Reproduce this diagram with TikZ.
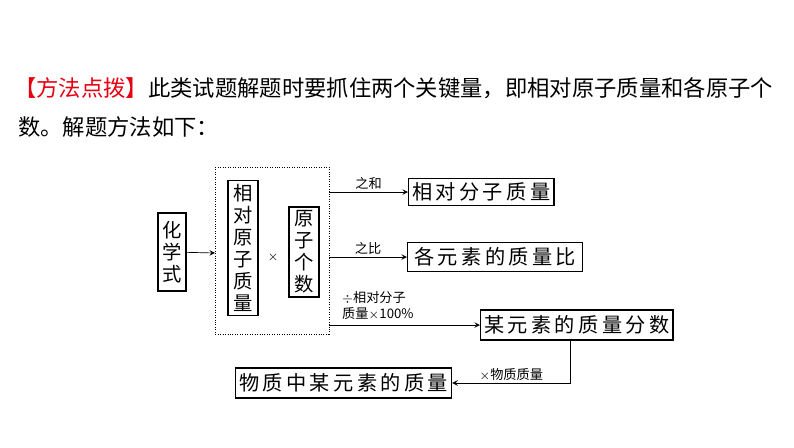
\documentclass[tikz,border=0pt]{standalone}
\usepackage{fontspec}
\setmainfont{Noto Sans CJK SC}
\usetikzlibrary{positioning}
\definecolor{tipred}{HTML}{E60012}

\begin{document}
\begin{tikzpicture}[x=0.02cm, y=-0.02cm,
    box/.style={draw, thick, inner sep=2pt, font=\fontsize{11.5}{12}\selectfont},
    vbox/.style={draw, thick, inner sep=2pt, align=center, font=\fontsize{11}{12.5}\selectfont},
    lbl/.style={font=\fontsize{7.5}{9}\selectfont, inner sep=1pt},
    arr/.style={->, >=stealth}]
  \useasboundingbox (0,0) rectangle (794,447);
  % title
  \node[anchor=west, font=\fontsize{12.7}{14}\selectfont, inner sep=0] (title) at (14,88)
    {\textcolor{tipred}{【方法点拨】}此类试题解题时要抓住两个关键量，即相对原子质量和各原子个};
  \node[anchor=west, font=\fontsize{12.7}{14}\selectfont, inner sep=0] (title2) at (18,127)
    {数。解题方法如下：};
  % left part
  \node[vbox, minimum width=0.56cm, minimum height=1.56cm] (hxs) at (172,252) {化\\学\\式};
  \draw[densely dotted] (215,167) rectangle (329,334);
  \coordinate (dl) at (215,253);
  \node[vbox, minimum width=0.6cm, minimum height=2.7cm] (xdyz) at (243,248) {相\\对\\原\\子\\质\\量};
  \node[lbl] (times) at (273,257) {$\times$};
  \node[vbox, minimum width=0.6cm, minimum height=1.8cm] (yzgs) at (304,252) {原\\子\\个\\数};
  \draw[arr] (hxs) -- (dl);
  % right boxes
  \node[box, anchor=west, minimum width=2.7cm, minimum height=0.54cm] (fzzl) at (408,192) {相\,对\,分\,子\,质\,量};
  \node[box, anchor=west, minimum width=3.5cm, minimum height=0.58cm] (zlb) at (407,257) {各\,元\,素\,的\,质\,量\,比};
  \node[box, anchor=west, minimum width=3.6cm, minimum height=0.6cm] (zlfs) at (480,325) {某\,元\,素\,的\,质\,量\,分\,数};
  \node[box, anchor=west, minimum width=3.84cm, minimum height=0.6cm] (wzzl) at (235,383) {物\,质\,中\,某\,元\,素\,的\,质\,量};
  \coordinate (o1) at (329,192);
  \coordinate (o2) at (329,257);
  \coordinate (o3) at (329,325);
  \draw[arr] (o1) -- node[lbl, above] {之和} (fzzl);
  \draw[arr] (o2) -- node[lbl, above] {之比} (zlb);
  \draw[arr] (o3) -- (zlfs);
  \node[lbl, anchor=south west, align=left] (chu) at (340,322) {$\div$相对分子\\质量$\times$100\%};
  \draw[arr] (zlfs.south -| 570,0) |- node[lbl, above, pos=0.75] {$\times$物质质量} (wzzl);
\end{tikzpicture}
\end{document}
